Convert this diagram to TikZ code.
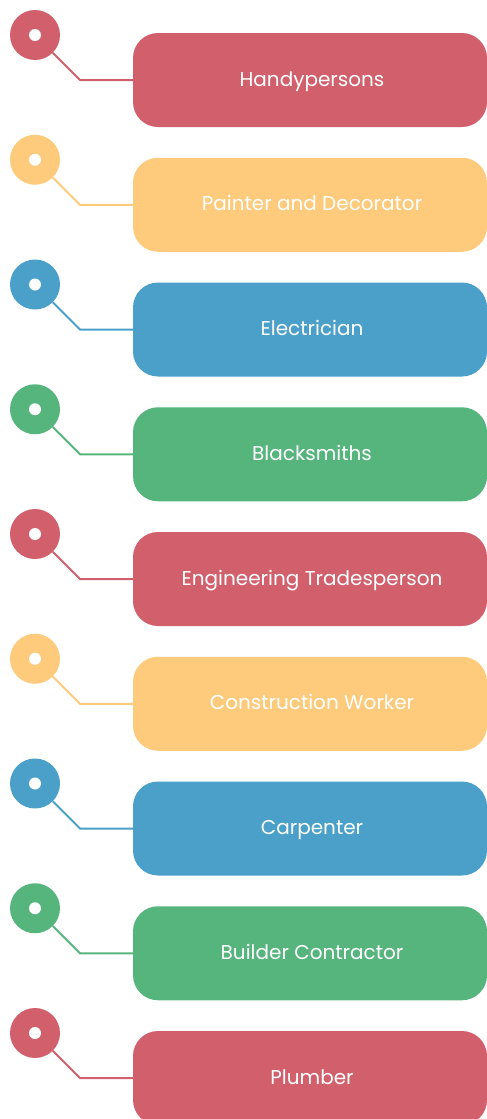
\documentclass[tikz,border=0pt]{standalone}
\usepackage{fontspec}
\setmainfont{Poppins}
\definecolor{tradeRed}{RGB}{209,96,108}
\definecolor{tradeYellow}{RGB}{254,202,124}
\definecolor{tradeBlue}{RGB}{74,160,201}
\definecolor{tradeGreen}{RGB}{86,180,125}

\tikzset{
  tradebox/.style={rectangle, rounded corners=25pt, minimum width=354pt, minimum height=94pt,
    inner sep=0pt},
  tradelabel/.style={anchor=base, inner sep=0pt, text=white, font=\fontsize{20}{22}\selectfont},
  tradedot/.style={circle, minimum size=50pt, inner sep=0pt},
  tradehole/.style={circle, fill=white, minimum size=12pt, inner sep=0pt},
  tradeline/.style={line width=2pt}
}

\begin{document}
\begin{tikzpicture}[x=1pt, y=-1pt]
\useasboundingbox (0,0) rectangle (487,1119);
\clip (0,0) rectangle (487,1119);

\foreach \col/\txt [count=\i from 0] in {
	tradeRed/Handypersons,
	tradeYellow/Painter and Decorator,
	tradeBlue/Electrician,
	tradeGreen/Blacksmiths,
	tradeRed/Engineering Tradesperson,
	tradeYellow/Construction Worker,
	tradeBlue/Carpenter,
	tradeGreen/Builder Contractor,
	tradeRed/Plumber}{
	\node[tradebox, fill=\col] (box\i) at (310, {80+124.75*\i}) {};
	\node[tradelabel] (label\i) at (312, {86+124.75*\i}) {\txt};
	\node[tradedot, fill=\col] (dot\i) at (35, {35+124.75*\i}) {};
	\node[tradehole] (hole\i) at (dot\i.center) {};
	\coordinate (bend\i) at (80, {80+124.75*\i});
	\draw[tradeline, draw=\col] (dot\i.-45) -- (bend\i) -- (box\i.west);
}
\end{tikzpicture}
\end{document}
